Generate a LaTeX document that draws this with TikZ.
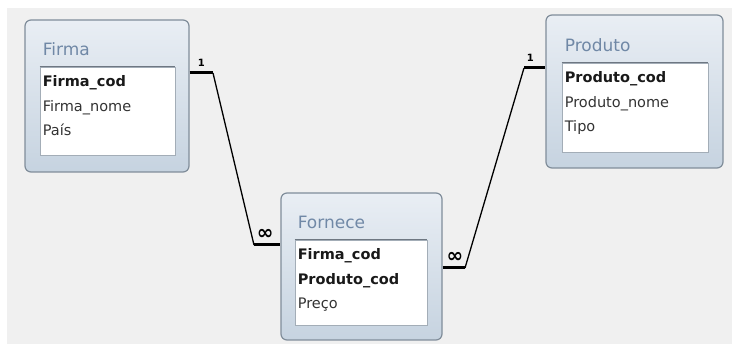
\documentclass[tikz,border=0pt]{standalone}
\usepackage{fontspec}
\setmainfont{DejaVu Sans}
\usetikzlibrary{positioning}

\definecolor{bggray}{HTML}{F0F0F0}
\definecolor{boxtop}{HTML}{E9EEF4}
\definecolor{boxbot}{HTML}{C6D3E0}
\definecolor{boxedge}{HTML}{808D9A}
\definecolor{areaedge}{HTML}{A3ADB7}
\definecolor{areatop}{HTML}{6E7782}
\definecolor{titleblue}{HTML}{7088A6}
\definecolor{fieldgray}{HTML}{333333}

\tikzset{
  tablebox/.style={draw=boxedge, line width=1.2pt, rounded corners=6pt,
    top color=boxtop, bottom color=boxbot, inner sep=0pt},
  fieldarea/.style={draw=areaedge, fill=white, line width=0.8pt, inner sep=0pt},
  tabletitle/.style={text=titleblue, font=\fontsize{17}{20}\selectfont, inner sep=0pt},
  field/.style={anchor=north west, text=fieldgray, inner sep=0pt,
    text height=11pt, text depth=3.5pt, font=\fontsize{14.5}{17}\selectfont},
  keyfield/.style={field, text=black!90, font=\fontsize{14.5}{17}\selectfont\bfseries},
  stub/.style={line width=3pt},
  link/.style={line width=1.3pt},
  card/.style={inner sep=0pt, font=\fontsize{10}{11}\selectfont\bfseries},
  manycard/.style={inner sep=0pt, font=\fontsize{20}{20}\selectfont\bfseries}
}

\begin{document}
\begin{tikzpicture}[x=1pt, y=-1pt]
    % Background
    \fill[white] (0,0) rectangle (732,344);
    \fill[bggray] (7,8) rectangle (732,344);
    \useasboundingbox (0,0) rectangle (732,344);

    % Table Firma
    \node[tablebox, minimum width=164, minimum height=152] (firma) at (107,96) {};
    \node[fieldarea, minimum width=135, minimum height=88] (firmaarea) at (107.5,111) {};
    \draw[areatop, line width=1pt] (firmaarea.north west) -- (firmaarea.north east);
    \node[tabletitle, above right=11pt and 3pt of firmaarea.north west] (firmatitle) {Firma};
    \node[keyfield, below right=9pt and 3pt of firmaarea.north west] (firmacod) {Firma\_cod};
    \node[field, below=9.5pt of firmacod.south west, anchor=north west] (firmanome) {Firma\_nome};
    \node[field, below=9.5pt of firmanome.south west, anchor=north west] (firmapais) {País};

    % Table Fornece
    \node[tablebox, minimum width=161, minimum height=147] (fornece) at (361.5,266.5) {};
    \node[fieldarea, minimum width=132, minimum height=85] (forneceare) at (361,282.5) {};
    \draw[areatop, line width=1pt] (forneceare.north west) -- (forneceare.north east);
    \node[tabletitle, above right=11pt and 3pt of forneceare.north west] (fornecetitle) {Fornece};
    \node[keyfield, below right=9pt and 3pt of forneceare.north west] (fornecefirma) {Firma\_cod};
    \node[keyfield, below=9.5pt of fornecefirma.south west, anchor=north west] (forneceprod) {Produto\_cod};
    \node[field, below=9.5pt of forneceprod.south west, anchor=north west] (fornecepreco) {Preço};

    % Table Produto
    \node[tablebox, minimum width=177, minimum height=153] (produto) at (634.5,91.5) {};
    \node[fieldarea, minimum width=146, minimum height=89] (produtoarea) at (635,107.5) {};
    \draw[areatop, line width=1pt] (produtoarea.north west) -- (produtoarea.north east);
    \node[tabletitle, above right=11pt and 3pt of produtoarea.north west] (produtotitle) {Produto};
    \node[keyfield, below right=9pt and 3pt of produtoarea.north west] (produtocod) {Produto\_cod};
    \node[field, below=9.5pt of produtocod.south west, anchor=north west] (produtonome) {Produto\_nome};
    \node[field, below=9.5pt of produtonome.south west, anchor=north west] (produtotipo) {Tipo};

    % Relationships
    \coordinate (firmabend) at (213,73);
    \coordinate (fornecebendA) at (254,245);
    \coordinate (fornecebendB) at (465,268);
    \coordinate (produtobend) at (524,68);

    \draw[stub] (firma.east |- firmabend) -- node[card, above=5pt] {1} (firmabend);
    \draw[link] (firmabend) -- (fornecebendA);
    \draw[stub] (fornecebendA) -- node[manycard, above=4pt, pos=0.42] {∞} (fornece.west |- fornecebendA);

    \draw[stub] (fornece.east |- fornecebendB) -- node[manycard, above=4pt, pos=0.55] {∞} (fornecebendB);
    \draw[link] (fornecebendB) -- (produtobend);
    \draw[stub] (produtobend) -- node[card, above=5pt, pos=0.3] {1} (produto.west |- produtobend);
\end{tikzpicture}
\end{document}
